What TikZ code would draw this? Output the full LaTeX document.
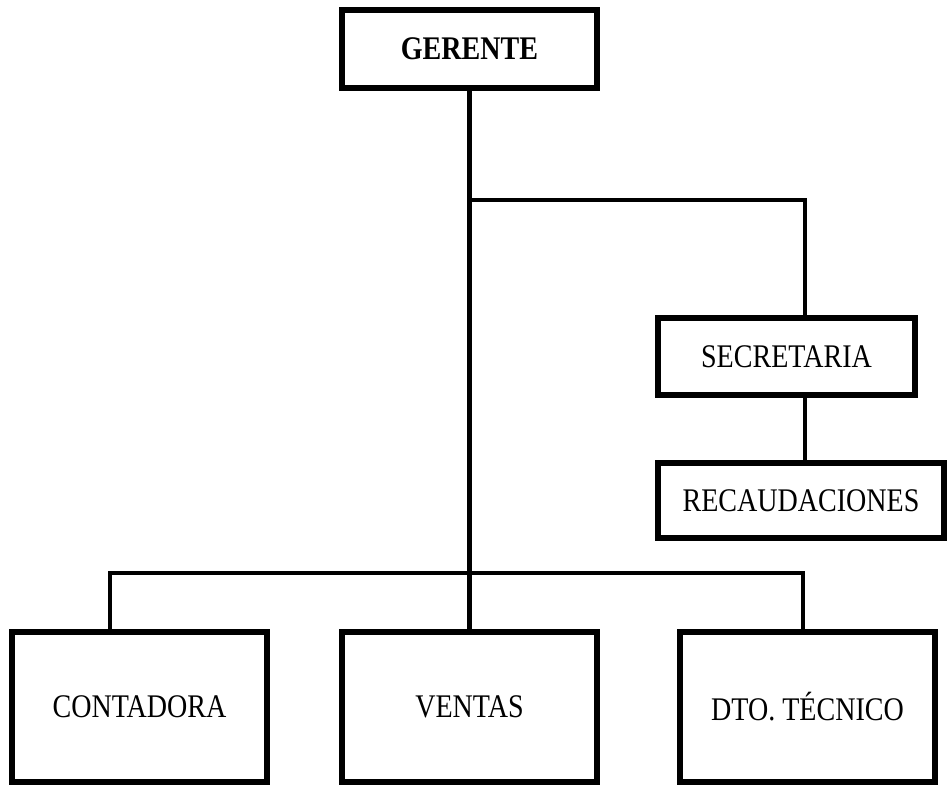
\documentclass[tikz,border=0pt]{standalone}
\usepackage{fontspec}
\setmainfont{Liberation Serif}[FakeStretch=0.85]
\begin{document}
\begin{tikzpicture}[x=1pt,y=-1pt,
  box/.style={draw=black,line width=5.5pt,rectangle,inner sep=0pt,font=\fontsize{33}{36}\selectfont},
  conn/.style={draw=black,line width=4.5pt}]
\useasboundingbox (0,0) rectangle (947,786);
\node[box,minimum width=255pt,minimum height=78pt,font=\fontsize{33}{36}\selectfont\bfseries] (ger) at (469.5,49) {GERENTE};
\node[box,minimum width=257pt,minimum height=77pt] (sec) at (786.5,356.5) {SECRETARIA};
\node[box,minimum width=286pt,minimum height=75pt] (rec) at (801,500.5) {RECAUDACIONES};
\node[box,minimum width=255pt,minimum height=150pt] (con) at (139.5,707) {CONTADORA};
\node[box,minimum width=255pt,minimum height=150pt] (ven) at (469.5,707) {VENTAS};
\node[box,minimum width=255pt,minimum height=150pt] (dto) at (807.5,707) {DTO. TÉCNICO};
\coordinate (j1) at (469.5,200);
\coordinate (j2) at (469.5,573);
\coordinate (sx) at (805,0);
\coordinate (cx) at (110,0);
\coordinate (dx) at (803,0);
\draw[conn] (ger.south) -- (ven.north);
\draw[conn] (j1) -| (sec.north -| sx);
\draw[conn] (sec.south -| sx) -- (rec.north -| sx);
\draw[conn] (con.north -| cx) |- (j2) -| (dto.north -| dx);
\end{tikzpicture}
\end{document}
